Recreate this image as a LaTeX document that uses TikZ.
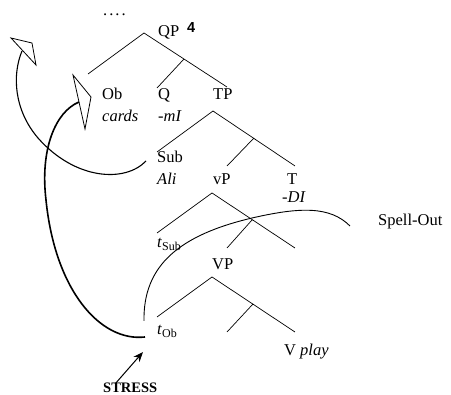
\documentclass[tikz,border=0pt]{standalone}
\usepackage{fontspec}
\setmainfont{Liberation Serif}
\newfontfamily\digitfont{Liberation Sans}
\usetikzlibrary{arrows.meta}
\begin{document}
\begin{tikzpicture}[x=1pt,y=-1pt,
  lbl/.style={anchor=base west, inner sep=0pt, font=\fontsize{16.5}{18}\selectfont},
  branch/.style={line width=0.7pt},
  move/.style={line width=1.1pt},
  movethick/.style={line width=1.6pt},
  spell/.style={line width=0.9pt},
  hollowhead/.style={line width=0.8pt, line join=miter}]
\useasboundingbox (0,0) rectangle (451,395);

% labels
\node[lbl] (dots) at (103,16) {.\kern2pt.\kern2pt.\kern2pt.};
\node[lbl] (QP) at (158,37) {QP};
\node[anchor=base west, inner sep=0pt, font=\digitfont\bfseries\fontsize{14.5}{16}\selectfont] (four) at (187,33) {4};
\node[lbl] (Ob) at (102,100) {Ob};
\node[lbl] (cards) at (102,122) {\itshape cards};
\node[lbl] (Q) at (158,100) {Q};
\node[lbl] (mI) at (158,122) {\itshape -mI};
\node[lbl] (TP) at (213,100) {TP};
\node[lbl] (Sub) at (157,163) {Sub};
\node[lbl] (Ali) at (157,185) {\itshape Ali};
\node[lbl] (vP) at (213,185) {vP};
\node[lbl] (T) at (287,185) {T};
\node[lbl] (DI) at (282,203) {\itshape -DI};
\node[lbl] (spellout) at (378,226) {Spell-Out};
\node[lbl] (tSub) at (157,248) {\itshape t\/\upshape\raisebox{-3pt}{\fontsize{12}{13}\selectfont Sub}};
\node[lbl] (VP) at (212,270) {VP};
\node[lbl] (tOb) at (157,335) {\itshape t\/\upshape\raisebox{-3pt}{\fontsize{12}{13}\selectfont Ob}};
\node[lbl] (Vplay) at (284,356) {V \itshape play};
\node[anchor=base west, inner sep=0pt, font=\bfseries\fontsize{14.5}{16}\selectfont] (stress) at (103,393) {STRESS};

% QP
\coordinate (qpA) at (144,33);
\coordinate (qpL) at (88,74);
\coordinate (qpR) at (227,87);
\coordinate (qpM) at (184,59);
\coordinate (qpQ) at (157,88);
\draw[branch] (qpL) -- (qpA) -- (qpR) (qpM) -- (qpQ);

% TP
\coordinate (tpA) at (213,111);
\coordinate (tpL) at (157,152);
\coordinate (tpR) at (295,166);
\coordinate (tpM) at (254,138);
\coordinate (tpV) at (227,166);
\draw[branch] (tpL) -- (tpA) -- (tpR) (tpM) -- (tpV);

% vP
\coordinate (vpA) at (212,193);
\coordinate (vpL) at (157,233);
\coordinate (vpR) at (295,248);
\coordinate (vpM) at (252,220);
\coordinate (vpV) at (227,248);
\draw[branch] (vpL) -- (vpA) -- (vpR) (vpM) -- (vpV);

% VP
\coordinate (VPA) at (212,277);
\coordinate (VPL) at (157,317);
\coordinate (VPR) at (295,332);
\coordinate (VPM) at (253,304);
\coordinate (VPV) at (227,332);
\draw[branch] (VPL) -- (VPA) -- (VPR) (VPM) -- (VPV);

% hollow arrowheads
\coordinate (h1a) at (11,38);
\coordinate (h1b) at (32,43);
\coordinate (h1c) at (36,65);
\draw[hollowhead] (h1a) -- (h1b) -- (h1c) -- cycle;
\coordinate (h2a) at (73,75);
\coordinate (h2b) at (91,97);
\coordinate (h2c) at (85,129);
\draw[hollowhead] (h2a) -- (h2b) -- (h2c) -- cycle;

% movement of the subject
\coordinate (m1s) at (146,161);
\coordinate (m1m) at (38,138);
\coordinate (m1e) at (22,51);
\draw[move] (m1s) .. controls (125,183) and (75,180) .. (m1m)
                 .. controls (14,110) and (12,75) .. (m1e);

% movement of the object
\coordinate (m2s) at (145,337);
\coordinate (m2m) at (46,200);
\coordinate (m2e) at (79,102);
\draw[movethick] (m2s) .. controls (100,342) and (55,290) .. (m2m)
                      .. controls (40,150) and (55,112) .. (m2e);

% spell-out boundary
\coordinate (s1) at (144,321);
\coordinate (s2) at (252,218);
\coordinate (s3) at (350,226);
\draw[spell] (s1) .. controls (143,265) and (180,235) .. (s2)
                 .. controls (300,207) and (330,206) .. (s3);

% stress arrow
\coordinate (st1) at (115,384);
\coordinate (st2) at (143,352);
\draw[line width=1pt, -{Stealth[length=10pt,width=8pt]}] (st1) -- (st2);
\end{tikzpicture}
\end{document}
